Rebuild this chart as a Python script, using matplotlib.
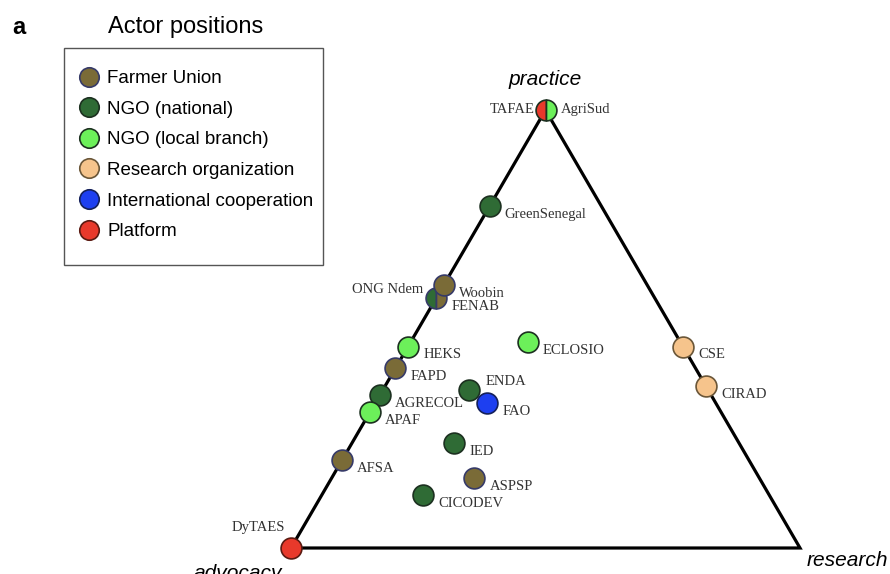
import numpy as np
import matplotlib.pyplot as plt
from matplotlib.lines import Line2D
from matplotlib.patches import Rectangle

# actor positions on the practice / advocacy / research simplex
names = ['TAFAE', 'AgriSud', 'GreenSenegal', 'ONG Ndem', 'FENAB', 'Woobin',
         'HEKS', 'ECLOSIO', 'FAPD', 'ENDA', 'AGRECOL', 'FAO', 'APAF', 'IED',
         'AFSA', 'ASPSP', 'CICODEV', 'DyTAES', 'CSE', 'CIRAD']
groups = ['Platform', 'NGO (local branch)', 'NGO (national)', 'NGO (national)',
          'Farmer Union', 'Farmer Union', 'NGO (local branch)', 'NGO (local branch)',
          'Farmer Union', 'NGO (national)', 'NGO (national)', 'International cooperation',
          'NGO (local branch)', 'NGO (national)', 'Farmer Union', 'Farmer Union',
          'NGO (national)', 'Platform', 'Research organization', 'Research organization']
practice = [1.00, 1.00, 0.78, 0.57, 0.57, 0.60, 0.46, 0.47, 0.41, 0.36, 0.35, 0.33,
            0.31, 0.24, 0.20, 0.16, 0.12, 0.00, 0.46, 0.37]
research = [0.00, 0.00, 0.00, 0.00, 0.00, 0.00, 0.00, 0.23, 0.00, 0.17, 0.00, 0.22,
            0.00, 0.20, 0.00, 0.28, 0.20, 0.00, 0.54, 0.63]
advocacy = [round(1 - p - r, 2) for p, r in zip(practice, research)]

group_names = ['Farmer Union', 'NGO (national)', 'NGO (local branch)',
               'Research organization', 'International cooperation', 'Platform']
face = {'Farmer Union': '#7a6b37', 'NGO (national)': '#2f6b35',
        'NGO (local branch)': '#6cf05a', 'Research organization': '#f6c48c',
        'International cooperation': '#1d3ff0', 'Platform': '#e8392b'}
edge = {'Farmer Union': '#363a68', 'NGO (national)': '#1c3020',
        'NGO (local branch)': '#1c3020', 'Research organization': '#6a5638',
        'International cooperation': '#14205a', 'Platform': '#5a1a12'}

# label offsets in points (dx, dy, ha); default sits to the lower right
offsets = {'TAFAE': (-8, 0.5, 'right'), 'AgriSud': (11, 0.5, 'left'),
           'ONG Ndem': (-9, 6.5, 'right'), 'ENDA': (11.5, 6.5, 'left'),
           'DyTAES': (-4, 15, 'right')}
default_offset = (11, -6, 'left')


def to_xy(p, a, r):
    p, a, r = np.asarray(p), np.asarray(a), np.asarray(r)
    s = p + a + r
    return (r + 0.5 * p) / s, (np.sqrt(3) / 2) * p / s


fig = plt.figure(figsize=(8.9, 5.74), dpi=100)
ax = fig.add_axes([0, 0, 1, 1])
ax.set_xlim(-291 / 509, -291 / 509 + 890 / 509)
ys = 438 / (np.sqrt(3) / 2)
ax.set_ylim(-26 / ys, -26 / ys + 574 / ys)
ax.axis('off')

# triangle frame
cx, cy = to_xy([0, 1, 0, 0], [1, 0, 0, 1], [0, 0, 1, 0])
ax.plot(cx, cy, color='black', lw=2.3, solid_joinstyle='miter', zorder=1)

ax.text(0.5, np.sqrt(3) / 2 + 0.06, 'practice', ha='center', va='center',
        fontsize=15, style='italic', family='Liberation Sans')
ax.text(-0.104, -0.051, 'advocacy', ha='center', va='center',
        fontsize=15, style='italic', family='Liberation Sans')
ax.text(1.094, -0.024, 'research', ha='center', va='center',
        fontsize=15, style='italic', family='Liberation Sans')

x, y = to_xy(practice, advocacy, research)

# actors sharing a position get a split marker (left / right halves)
done = set()
for i in range(len(names)):
    if i in done:
        continue
    twin = [j for j in range(i + 1, len(names))
            if abs(x[j] - x[i]) < 1e-9 and abs(y[j] - y[i]) < 1e-9]
    if twin:
        j = twin[0]
        done.add(j)
        ax.plot(x[i], y[i], marker='o', ms=15, fillstyle='left',
                mfc=face[groups[i]], mfcalt=face[groups[j]],
                mec=edge[groups[j]], mew=1.2, ls='', zorder=3)
    else:
        ax.plot(x[i], y[i], marker='o', ms=15, mfc=face[groups[i]],
                mec=edge[groups[i]], mew=1.2, ls='', zorder=3)

for i, name in enumerate(names):
    dx, dy, ha = offsets.get(name, default_offset)
    ax.annotate(name, (x[i], y[i]), xytext=(dx, dy), textcoords='offset points',
                ha=ha, va='center', fontsize=10.5, family='Liberation Serif',
                color='#333333', zorder=4)

# legend
fig.text(12 / 890, 1 - 28 / 574, 'a', fontsize=17, fontweight='bold',
         family='Liberation Sans', va='center', ha='left')
fig.text(186 / 890, 1 - 27 / 574, 'Actor positions', fontsize=17,
         family='Liberation Sans', va='center', ha='center')
fig.patches.append(Rectangle((64 / 890, 1 - 265 / 574), 259 / 890, 217 / 574,
                             transform=fig.transFigure, fill=False,
                             edgecolor='#555555', lw=1.0))
handles = [Line2D([], [], marker='o', ls='', ms=14, mfc=face[g], mec=edge[g],
                  mew=1.2) for g in group_names]
fig.legend(handles, group_names, loc='upper left',
           bbox_to_anchor=(78 / 890, 1 - 70 / 574), frameon=False,
           borderpad=0, borderaxespad=0, handlelength=1.2, handletextpad=0.36,
           labelspacing=0.72, prop={'family': 'Liberation Sans', 'size': 13.5})

fig.savefig('out.png', dpi=100)
